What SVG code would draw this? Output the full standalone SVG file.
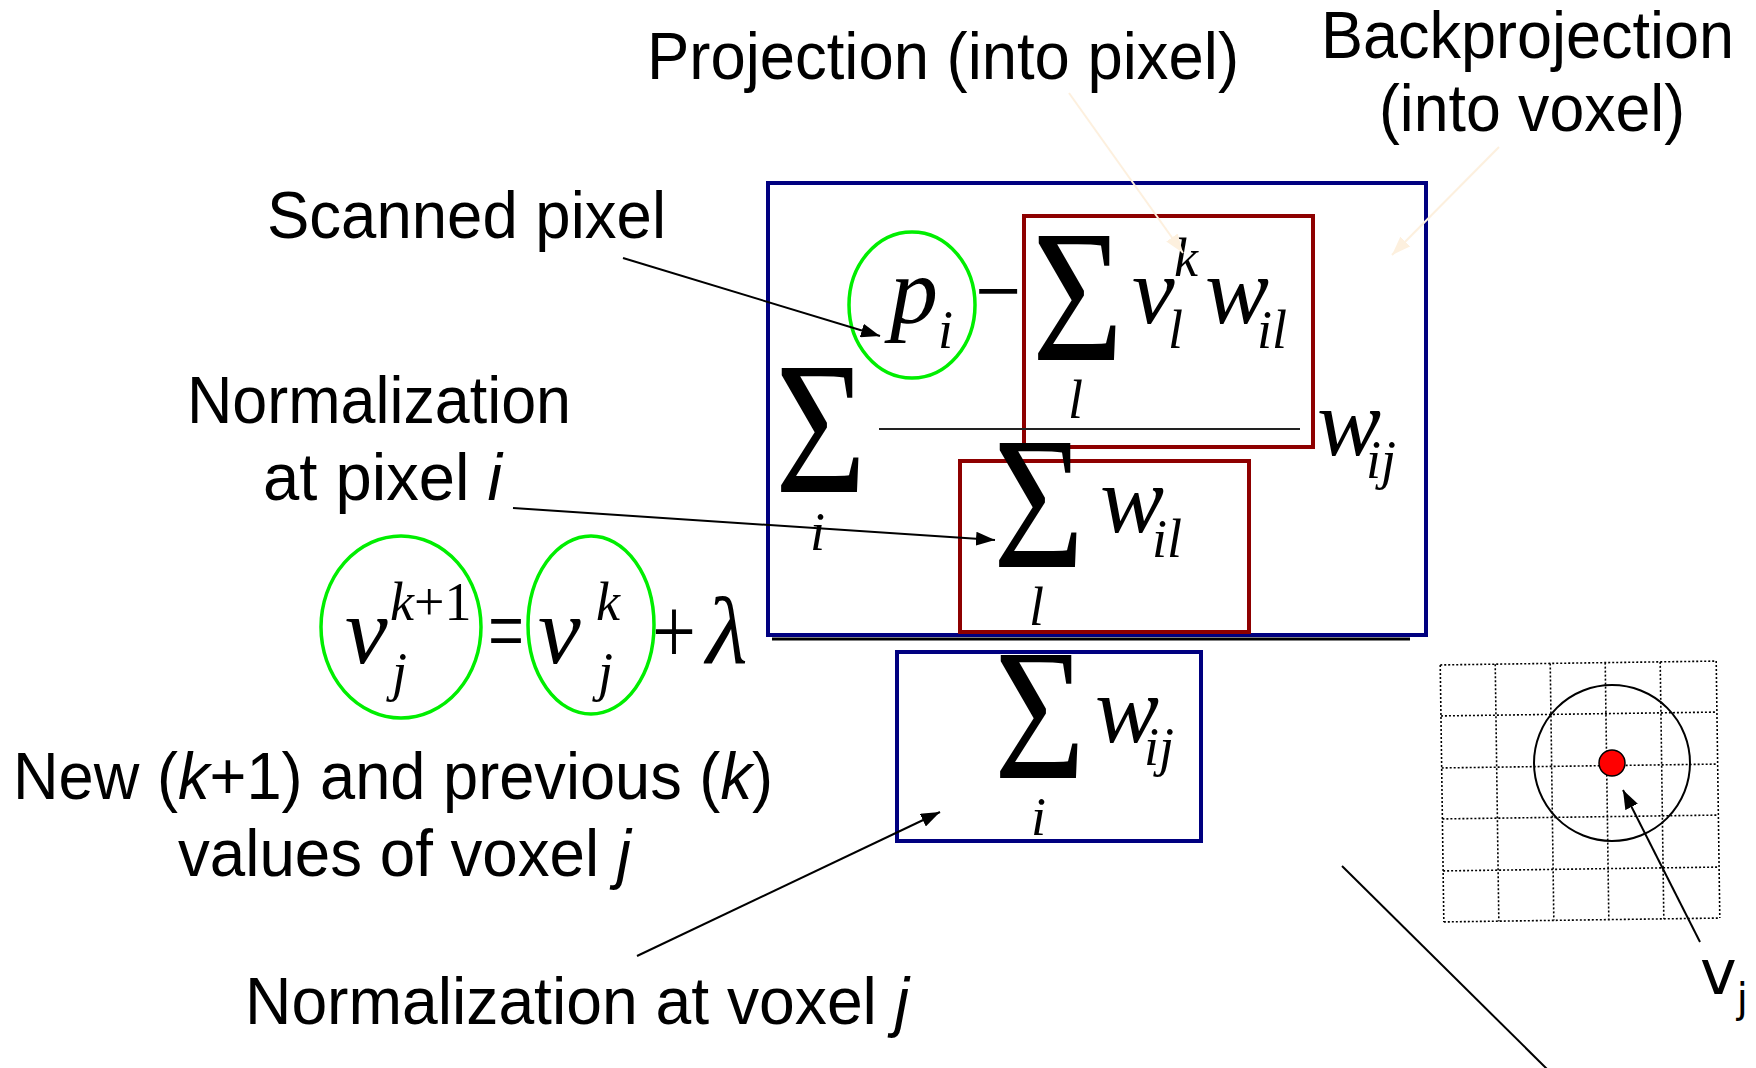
<svg xmlns="http://www.w3.org/2000/svg" width="1756" height="1068" viewBox="0 0 1756 1068">
<style>
.lbl{font-family:"Liberation Sans",Arial,sans-serif;font-size:66px;fill:#000}
.it{font-style:italic}
.m{font-family:"Liberation Serif","Times New Roman",serif;font-style:italic;font-size:96px;fill:#000}
.s{font-family:"Liberation Serif","Times New Roman",serif;font-style:italic;font-size:54px;fill:#000}
.r{font-family:"Liberation Serif","Times New Roman",serif;font-style:normal;fill:#000}
.sig{font-family:"Liberation Serif","Times New Roman",serif;font-size:189px;fill:#000}
.bbox{fill:none;stroke:#000080;stroke-width:4}
.rbox{fill:none;stroke:#8E0000;stroke-width:4}
.ell{fill:none;stroke:#00EE00;stroke-width:3.5}
.arr{stroke:#000;stroke-width:2;fill:none;marker-end:url(#ah)}
.carr{stroke:#FDF0DE;stroke-width:2;fill:none;marker-end:url(#ahc)}
.grid{stroke:#000;stroke-width:1.6;stroke-dasharray:2 2;fill:none}
</style>
<defs>
<marker id="ah" markerUnits="userSpaceOnUse" markerWidth="20" markerHeight="14" refX="19" refY="7" orient="auto"><path d="M0,0 L19,7 L0,14 z" fill="#000"/></marker>
<marker id="ahc" markerUnits="userSpaceOnUse" markerWidth="20" markerHeight="14" refX="19" refY="7" orient="auto"><path d="M0,0 L19,7 L0,14 z" fill="#FDF0DE"/></marker>
<clipPath id="clipd"><rect x="900" y="655" width="300" height="200"/></clipPath>
</defs>

<g id="labels">
<text class="lbl" x="647" y="79" textLength="592" lengthAdjust="spacingAndGlyphs">Projection (into pixel)</text>
<text class="lbl" x="1321" y="58" textLength="413" lengthAdjust="spacingAndGlyphs">Backprojection</text>
<text class="lbl" x="1379" y="131" textLength="306" lengthAdjust="spacingAndGlyphs">(into voxel)</text>
<text class="lbl" x="267" y="238" textLength="399" lengthAdjust="spacingAndGlyphs">Scanned pixel</text>
<text class="lbl" x="187" y="423" textLength="384" lengthAdjust="spacingAndGlyphs">Normalization</text>
<text class="lbl" x="263" y="500" textLength="239" lengthAdjust="spacingAndGlyphs">at pixel <tspan class="it">i</tspan></text>
<text class="lbl" x="13" y="799" textLength="760" lengthAdjust="spacingAndGlyphs">New (<tspan class="it">k</tspan>+1) and previous (<tspan class="it">k</tspan>)</text>
<text class="lbl" x="178" y="876" textLength="453" lengthAdjust="spacingAndGlyphs">values of voxel <tspan class="it">j</tspan></text>
<text class="lbl" x="245" y="1024" textLength="664" lengthAdjust="spacingAndGlyphs">Normalization at voxel <tspan class="it">j</tspan></text>
</g>

<g id="boxes">
<rect id="outer-box" class="bbox" x="768" y="183" width="658" height="452"/>
<rect id="proj-box" class="rbox" x="1024" y="216" width="289" height="231"/>
<rect id="normpix-box" class="rbox" x="960" y="461" width="289" height="171"/>
<rect id="normvox-box" class="bbox" x="897" y="652" width="304" height="189"/>
<ellipse id="pi-ell" class="ell" cx="912" cy="305" rx="63" ry="73"/>
<ellipse id="vk1-ell" class="ell" cx="401" cy="627" rx="80" ry="91"/>
<ellipse id="vk-ell" class="ell" cx="591" cy="625" rx="63" ry="89"/>
</g>

<g id="formula">
<!-- left side -->
<text class="m" x="345" y="663">v</text>
<text class="s" x="390" y="620">k<tspan class="r">+1</tspan></text>
<text class="s" x="392" y="690">j</text>
<text class="m r" x="488" y="663" textLength="36" lengthAdjust="spacingAndGlyphs">=</text>
<text class="m" x="538" y="663">v</text>
<text class="s" x="596" y="620">k</text>
<text class="s" x="598" y="690">j</text>
<text class="m r" x="652" y="663" textLength="44" lengthAdjust="spacingAndGlyphs">+</text>
<text class="m" x="706" y="663">λ</text>
<!-- outer sum -->
<text class="sig" transform="translate(775,492) scale(0.83,1)">Σ</text>
<text class="s" x="810" y="550">i</text>
<!-- numerator -->
<text class="m" x="890" y="323">p</text>
<text class="s" x="938" y="348">i</text>
<text class="m r" x="975" y="323" textLength="46" lengthAdjust="spacingAndGlyphs">−</text>
<text class="sig" transform="translate(1032,360) scale(0.83,1)">Σ</text>
<text class="s" x="1068" y="418">l</text>
<text class="m" x="1132" y="323">v</text>
<text class="s" x="1168" y="348">l</text>
<text class="s" x="1174" y="276">k</text>
<text class="m" x="1205" y="323">w</text>
<text class="s" x="1257" y="348">il</text>
<line x1="879" y1="429" x2="1300" y2="429" stroke="#222" stroke-width="2"/>
<!-- denominator -->
<text class="sig" transform="translate(993,567) scale(0.83,1)">Σ</text>
<text class="s" x="1029" y="625">l</text>
<text class="m" x="1100" y="532">w</text>
<text class="s" x="1152" y="557">il</text>
<!-- w_ij -->
<text class="m" x="1317" y="455">w</text>
<text class="s" x="1366" y="478">ij</text>
<!-- main fraction bar -->
<line x1="772" y1="639" x2="1410" y2="639" stroke="#000" stroke-width="3"/>
<!-- bottom denominator -->
<g clip-path="url(#clipd)"><text class="sig" transform="translate(994,778) scale(0.83,1)">Σ</text></g>
<text class="s" x="1031" y="835">i</text>
<text class="m" x="1095" y="742">w</text>
<text class="s" x="1144" y="765">ij</text>
</g>

<g id="voxel-grid" transform="rotate(-0.8 1580 790)">
<path class="grid" d="M1442,663 H1718 M1442,714 H1718 M1442,766 H1718 M1442,817 H1718 M1442,869 H1718 M1442,920 H1718 M1442,663 V920 M1497,663 V920 M1552,663 V920 M1607,663 V920 M1662,663 V920 M1718,663 V920"/>
</g>
<g id="voxel">
<circle cx="1612" cy="763" r="78" fill="none" stroke="#000" stroke-width="2"/>
<circle cx="1612" cy="763" r="13" fill="#FF0000" stroke="#000" stroke-width="1.5"/>
<text x="1700" y="994" font-family="'DejaVu Sans',sans-serif" font-size="62">v<tspan font-size="40" dy="18">j</tspan></text>
</g>

<g id="connectors">
<line class="arr" x1="623" y1="258" x2="880" y2="336"/>
<line class="arr" x1="513" y1="508" x2="995" y2="540"/>
<line class="arr" x1="637" y1="956" x2="940" y2="812"/>
<line class="carr" x1="1069" y1="93" x2="1183" y2="253"/>
<line class="carr" x1="1499" y1="147" x2="1392" y2="255"/>
<line class="arr" x1="1700" y1="942" x2="1623" y2="790"/>
<line x1="1342" y1="866" x2="1548" y2="1070" stroke="#000" stroke-width="2"/>
</g>
</svg>
